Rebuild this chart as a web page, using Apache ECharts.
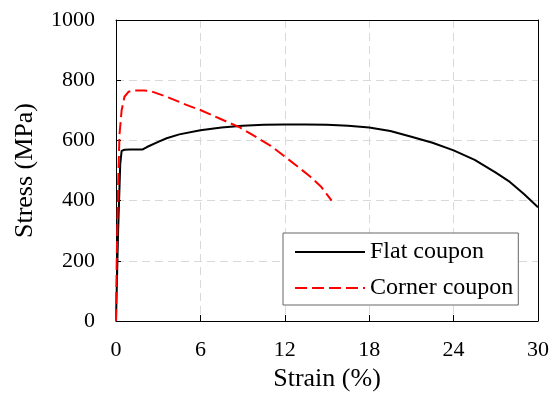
<!DOCTYPE html>
<html>
<head>
<meta charset="utf-8">
<script src="https://cdn.jsdelivr.net/npm/echarts@6/dist/echarts.min.js"></script>
<style>
  html, body { margin: 0; padding: 0; background: #fff; }
  #main { width: 552px; height: 396px; }
</style>
</head>
<body>
<div id="main"></div>
<script>
// strain (%) / stress (MPa)
var flatStrain = [0, 0.15, 0.3, 0.4, 0.6, 1.0, 1.5, 1.9, 2.2, 3.0, 3.6, 4.5, 6, 7.5, 9, 10.5, 12, 13.5, 15, 16.5, 18, 19.5, 21, 22.5, 24, 25.5, 27, 28, 29, 30];
var flatStress = [0, 300, 520, 565, 569, 570, 570, 570, 578, 595, 607, 620, 634, 643, 649, 652, 653, 653, 652, 649, 643, 631, 612, 592, 567, 535, 493, 462, 422, 378];

var cornerStrain = [0, 0.05, 0.15, 0.25, 0.4, 0.6, 0.9, 1.3, 2.0, 2.5, 3.6, 5, 6, 7.4, 8.8, 10, 11, 11.9, 13, 13.8, 14.6, 15.33];
var cornerStress = [0, 200, 450, 620, 700, 745, 762, 766, 766, 763, 745, 718, 701, 672, 643, 610, 582, 550, 510, 480, 445, 400];

var xTicks = { min: 0, max: 30, interval: 6 };
var yTicks = { min: 0, max: 1000, interval: 200 };

function pairs(xs, ys) {
  return xs.map(function (x, i) { return [x, ys[i]]; });
}

var font = 'Liberation Serif';
var chart = echarts.init(document.getElementById('main'), null, { renderer: 'canvas' });

var gridLine = {
  show: true,
  lineStyle: { color: '#d9d9d9', width: 1, type: [8, 5] }
};
// top / right edges of the plot box
var frame = {
  axisLine: { show: true, onZero: false, lineStyle: { color: '#000', width: 1 } },
  axisTick: { show: false },
  axisLabel: { show: false },
  splitLine: { show: false }
};

var option = {
  animation: false,
  grid: {
    left: 116, right: 14, top: 20, bottom: 75,
    outerBoundsMode: 'none',
    containLabel: false
  },
  legend: {
    orient: 'vertical',
    left: 283, top: 233,
    padding: [7, 5, 5, 11],
    itemGap: 12,
    itemWidth: 70,
    itemHeight: 10,
    borderColor: '#666', borderWidth: 1,
    backgroundColor: '#fff',
    itemStyle: { opacity: 0 },
    textStyle: { fontFamily: font, fontSize: 24, color: '#000', lineHeight: 24 },
    data: ['Flat coupon', 'Corner coupon']
  },
  xAxis: [{
    type: 'value',
    min: xTicks.min, max: xTicks.max, interval: xTicks.interval,
    name: 'Strain (%)',
    nameLocation: 'middle',
    nameGap: 45,
    nameTextStyle: { fontFamily: font, fontSize: 26, color: '#000' },
    axisLine: { onZero: false, lineStyle: { color: '#000', width: 1 } },
    axisTick: { inside: true, length: 6, lineStyle: { color: '#000' } },
    axisLabel: { fontFamily: font, fontSize: 22, color: '#000', margin: 18 },
    splitLine: gridLine
  }, Object.assign({
    type: 'value', position: 'top',
    min: xTicks.min, max: xTicks.max, interval: xTicks.interval
  }, frame)],
  yAxis: [{
    type: 'value',
    min: yTicks.min, max: yTicks.max, interval: yTicks.interval,
    name: 'Stress (MPa)',
    nameLocation: 'middle',
    nameGap: 78,
    nameTextStyle: { fontFamily: font, fontSize: 26, color: '#000' },
    axisLine: { show: true, onZero: false, lineStyle: { color: '#000', width: 1 } },
    axisTick: { show: true, inside: true, length: 5, lineStyle: { color: '#000' } },
    axisLabel: {
      fontFamily: font, fontSize: 22, color: '#000', margin: 21,
      formatter: function (v) { return String(v); }
    },
    splitLine: gridLine
  }, Object.assign({
    type: 'value', position: 'right',
    min: yTicks.min, max: yTicks.max, interval: yTicks.interval
  }, frame)],
  series: [
    {
      name: 'Flat coupon',
      type: 'line',
      showSymbol: false,
      symbol: 'none',
      lineStyle: { color: '#000', width: 2 },
      itemStyle: { color: '#000' },
      data: pairs(flatStrain, flatStress)
    },
    {
      name: 'Corner coupon',
      type: 'line',
      showSymbol: false,
      symbol: 'none',
      lineStyle: { color: '#ff0000', width: 2, type: [12, 5] },
      itemStyle: { color: '#ff0000' },
      data: pairs(cornerStrain, cornerStress)
    }
  ]
};

chart.setOption(option);
</script>
</body>
</html>
